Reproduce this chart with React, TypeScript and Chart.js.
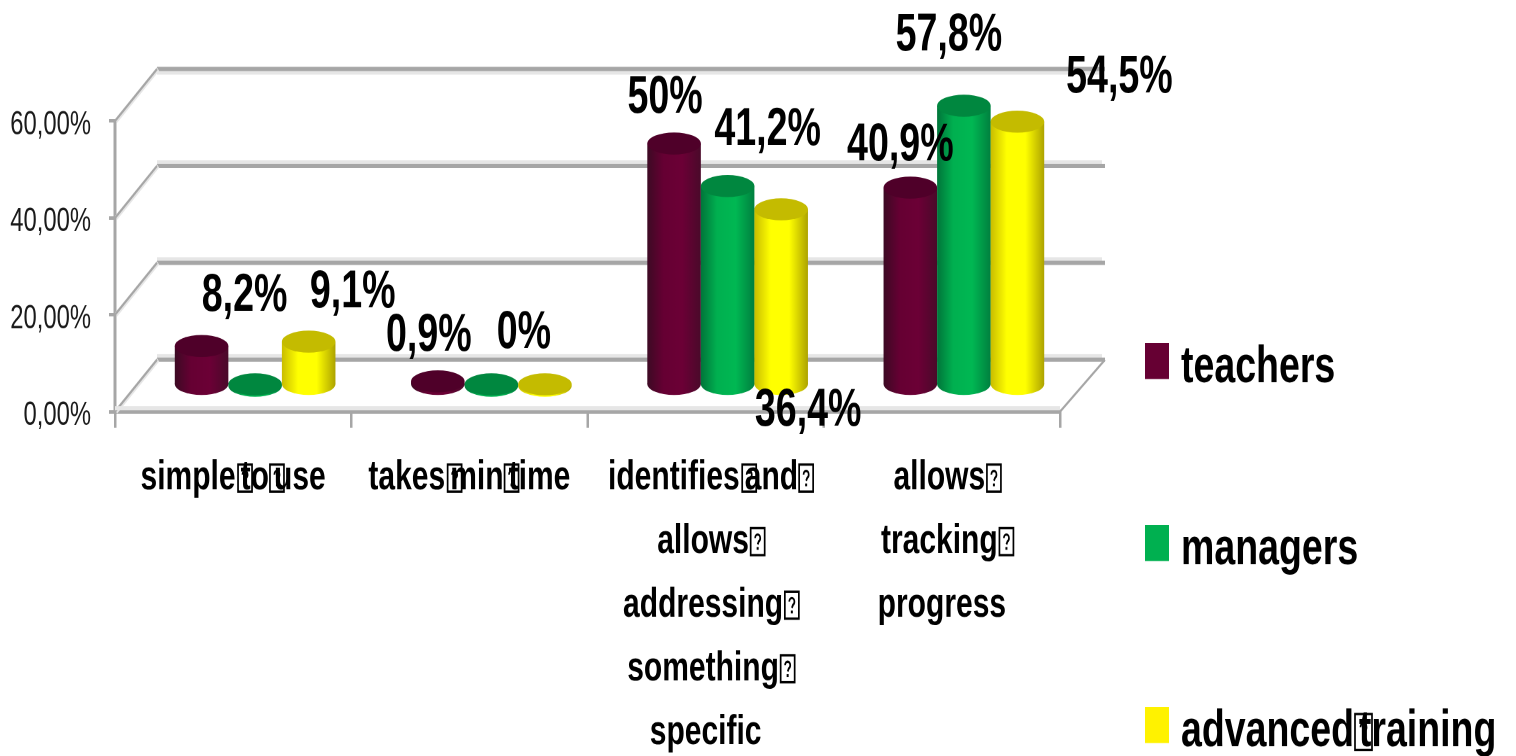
import React, { useEffect, useRef } from "react";
import { Chart, registerables } from "chart.js";

Chart.register(...registerables);

// Chart content
const categories = [
  ["simple to use"],
  ["takes min time"],
  ["identifies and ", "allows ", "addressing ", "something ", "specific"],
  ["allows ", "tracking ", "progress"],
];
const seriesNames = ["teachers", "managers", "advanced training"];
const teachers = [8.2, 0.9, 50, 40.9];
const managers = [0, 0, 41.2, 57.8];
const advancedTraining = [9.1, 0, 36.4, 54.5];
const yTicks = { min: 0, max: 60, step: 20 };

// Appearance
const FONT = '"Liberation Sans Narrow", "Liberation Sans", sans-serif';
const WIDTH = 1516;
const HEIGHT = 756;
const STRETCH = 1.4; // text and marks are tall and narrow: the canvas is stretched vertically
const sy = (v: number) => v / STRETCH;

const AXIS_LEFT = 115;
const AXIS_RIGHT = 1060;
const AXIS_TOP = 121;
const AXIS_BOTTOM = 411.7;
const DEPTH_X = 42;
const DEPTH_Y = sy(-52);
const BAR_SHIFT_X = 22;
const BAR_SHIFT_Y = sy(-26);
const CAP_RY = sy(11);
const GREY = "#a6a6a6";
const PALE = "#e6e6e6";

const TICK_FONT_SIZE = 30;
const LEGEND_FONT_SIZE = 37.5;
const VALUE_FONT_SIZE = 37.6;
const SPACE_EM = 0.228;
const TICK_GAP = 3.6; // advance left for a space in the category labels

const bodyStops = [
  ["#3d0a24", "#660033", "#6c0036", "#4a0a2a"],
  ["#00753a", "#00b050", "#00b853", "#00803f"],
  ["#c9bd00", "#ffff00", "#ffff00", "#ada300"],
];
const capColors = ["#4f0029", "#00873f", "#c4bb00"];
const legendColors = ["#660033", "#00b050", "#fff200"];

// Data label placement relative to the top of its bar; null leaves the bar unlabelled
const labelShifts: ([number, number] | null)[][] = [
  [[45, -50], [-7, -45], [-7, -45], [-8, -42]],
  [null, null, [42, -56], [-13, -70]],
  [[46, -49], [-19, -52], [29, 202], [104, -44]],
];

// Missing-glyph box left by the non-breaking spaces in the labels
function drawMissingGlyph(ctx: CanvasRenderingContext2D, x: number, y: number, w: number, h: number) {
  ctx.save();
  ctx.strokeStyle = "#000";
  ctx.fillStyle = "#000";
  ctx.lineWidth = 1.7;
  ctx.strokeRect(x + 1, y - h / 2, w - 2, h);
  const cx = x + w / 2;
  const r = w * 0.16;
  ctx.beginPath();
  ctx.arc(cx, y - h * 0.13, r, Math.PI, Math.PI * 2.35);
  ctx.lineTo(cx, y + h * 0.1);
  ctx.stroke();
  ctx.fillRect(cx - 1, y + h * 0.2, 2, 2);
  ctx.restore();
}

function drawWordsGaps(ctx: CanvasRenderingContext2D, line: string, cx: number, y: number, w: number, h: number) {
  const words = line.split(" ");
  ctx.save();
  (ctx as any).wordSpacing = "0px";
  const widths = words.map((word) => ctx.measureText(word).width);
  const total = widths.reduce((a, b) => a + b, 0) + TICK_GAP * (words.length - 1);
  let pen = cx - total / 2;
  words.forEach((_, i) => {
    pen += widths[i];
    if (i < words.length - 1) {
      drawMissingGlyph(ctx, pen, y, w, h);
      pen += TICK_GAP;
    }
  });
  ctx.restore();
}

const depthPlugin = {
  id: "depth",
  beforeDraw(chart: any) {
    // The label spaces take little room, so the words close up around their boxes
    chart.ctx.wordSpacing = `${TICK_GAP - SPACE_EM * TICK_FONT_SIZE}px`;
  },
  beforeDatasetsDraw(chart: any) {
    const { ctx, scales } = chart;
    const yScale = scales.y;
    const xScale = scales.x;
    const left = xScale.left;
    const right = xScale.right;
    const zero = yScale.getPixelForValue(0);
    ctx.save();
    ctx.lineCap = "butt";

    // Back wall lines and the side wall diagonals
    yScale.ticks.forEach((tick: any) => {
      const y = yScale.getPixelForValue(tick.value);
      const backY = y + DEPTH_Y;
      const isTop = tick.value === yTicks.max;
      ctx.fillStyle = PALE;
      ctx.fillRect(left + DEPTH_X, isTop ? backY + 1 : backY - 4, right - left, 3);
      ctx.strokeStyle = GREY;
      ctx.lineWidth = 3;
      ctx.beginPath();
      ctx.moveTo(left + DEPTH_X, backY);
      ctx.lineTo(right + DEPTH_X + 3, backY);
      ctx.stroke();
      ctx.strokeStyle = PALE;
      ctx.lineWidth = 3.5;
      ctx.beginPath();
      ctx.moveTo(left + 1, y);
      ctx.lineTo(left + DEPTH_X + 1, backY);
      ctx.stroke();
      ctx.strokeStyle = GREY;
      ctx.lineWidth = 1.8;
      ctx.beginPath();
      ctx.moveTo(left, y);
      ctx.lineTo(left + DEPTH_X, backY);
      ctx.stroke();
    });

    // Floor edges
    ctx.fillStyle = PALE;
    ctx.fillRect(left, zero - 4, right - left, 3);
    ctx.strokeStyle = GREY;
    ctx.lineWidth = 1.8;
    ctx.beginPath();
    ctx.moveTo(right, zero);
    ctx.lineTo(right + DEPTH_X + 3, zero + DEPTH_Y);
    ctx.stroke();
    ctx.restore();

    // Cylinders, left to right inside each group
    for (let i = 0; i < chart.data.datasets.length; i++) {
      const meta = chart.getDatasetMeta(i);
      meta.data.forEach((bar: any, j: number) => {
        const value = chart.data.datasets[i].data[j];
        const half = bar.width / 2;
        ctx.save();
        ctx.translate(BAR_SHIFT_X, BAR_SHIFT_Y);
        const stops = bodyStops[i];
        const shade = ctx.createLinearGradient(bar.x - half, 0, bar.x + half, 0);
        shade.addColorStop(0, stops[0]);
        shade.addColorStop(0.3, stops[1]);
        shade.addColorStop(0.65, stops[2]);
        shade.addColorStop(1, stops[3]);
        ctx.fillStyle = shade;
        ctx.beginPath();
        ctx.ellipse(bar.x, bar.base, half, CAP_RY, 0, 0, Math.PI * 2);
        ctx.fill();
        if (value > 0) {
          const resolved = bar.options;
          bar.options = { ...resolved, backgroundColor: shade, borderWidth: 0 };
          bar.draw(ctx);
          bar.options = resolved;
        }
        ctx.fillStyle = capColors[i];
        ctx.beginPath();
        ctx.ellipse(bar.x, value > 0 ? bar.y : bar.base - 1, half, CAP_RY, 0, 0, Math.PI * 2);
        ctx.fill();
        ctx.restore();
      });
    }
    return false;
  },
  afterDraw(chart: any) {
    const { ctx, scales } = chart;
    ctx.save();

    // Boxes in the category labels
    ctx.font = `bold ${TICK_FONT_SIZE}px ${FONT}`;
    scales.x.getLabelItems().forEach((item: any) => {
      const lines: string[] = Array.isArray(item.label) ? item.label : [item.label];
      const [x, y] = item.options.translation;
      lines.forEach((line, k) => {
        const lineY = y + item.textOffset + k * item.font.lineHeight;
        drawWordsGaps(ctx, line, x, lineY, 16, sy(27));
      });
    });

    // Data labels
    ctx.wordSpacing = "0px";
    ctx.font = `bold ${VALUE_FONT_SIZE}px ${FONT}`;
    ctx.fillStyle = "#000";
    ctx.textAlign = "center";
    ctx.textBaseline = "middle";
    chart.data.datasets.forEach((ds: any, i: number) => {
      const meta = chart.getDatasetMeta(i);
      meta.data.forEach((bar: any, j: number) => {
        const shift = labelShifts[i][j];
        if (!shift) return;
        const text = `${ds.data[j]}`.replace(".", ",") + "%";
        ctx.fillText(text, bar.x + BAR_SHIFT_X + shift[0] - 2, bar.y + BAR_SHIFT_Y + sy(shift[1]));
      });
    });

    // Legend
    const rows = [343, 525, 707];
    chart.data.datasets.forEach((ds: any, i: number) => {
      const top = sy(rows[i]);
      const midY = sy(rows[i] + 25);
      ctx.fillStyle = legendColors[i];
      ctx.fillRect(1145, top, 24, sy(36));
      ctx.font = `bold ${LEGEND_FONT_SIZE}px ${FONT}`;
      ctx.fillStyle = "#000";
      ctx.textAlign = "left";
      ctx.wordSpacing = `${-SPACE_EM * LEGEND_FONT_SIZE + 3}px`;
      ctx.fillText(ds.label, 1181, midY);
      ctx.wordSpacing = "0px";
      const words = ds.label.split(" ");
      if (words.length > 1) {
        const boxX = 1181 + ctx.measureText(words[0]).width;
        drawMissingGlyph(ctx, boxX, midY, 19, sy(36));
      }
    });
    ctx.restore();
  },
};

export default function App() {
  const canvasRef = useRef<HTMLCanvasElement | null>(null);

  useEffect(() => {
    const chart = new Chart(canvasRef.current as HTMLCanvasElement, {
      type: "bar",
      data: {
        labels: categories as any,
        datasets: [
          { label: seriesNames[0], data: teachers, backgroundColor: legendColors[0] },
          { label: seriesNames[1], data: managers, backgroundColor: legendColors[1] },
          { label: seriesNames[2], data: advancedTraining, backgroundColor: legendColors[2] },
        ],
      },
      plugins: [depthPlugin as any],
      options: {
        animation: false,
        responsive: false,
        devicePixelRatio: 2,
        layout: { padding: { left: 0, right: WIDTH - AXIS_RIGHT, top: sy(AXIS_TOP), bottom: 0 } },
        datasets: { bar: { categoryPercentage: 0.68, barPercentage: 1, borderWidth: 0 } },
        plugins: {
          legend: { display: false },
          tooltip: { enabled: false },
          title: { display: false },
        },
        scales: {
          x: {
            afterFit: (scale: any) => {
              scale.height = sy(HEIGHT - AXIS_BOTTOM);
            },
            border: { display: true, color: GREY, width: 3 },
            grid: { display: true, drawOnChartArea: false, drawTicks: true, tickLength: 11.4, color: GREY, lineWidth: 2.5 },
            ticks: {
              autoSkip: false,
              maxRotation: 0,
              minRotation: 0,
              padding: 13.3,
              color: "#000",
              font: { family: FONT, size: TICK_FONT_SIZE, weight: "bold", lineHeight: 45.4 / TICK_FONT_SIZE },
            },
          },
          y: {
            min: yTicks.min,
            max: yTicks.max,
            afterFit: (scale: any) => {
              scale.width = AXIS_LEFT;
            },
            border: { display: true, color: GREY, width: 3 },
            grid: { display: true, drawOnChartArea: false, drawTicks: true, tickLength: 6, color: GREY, lineWidth: 2.5 },
            ticks: {
              stepSize: yTicks.step,
              padding: 18,
              labelOffset: 3,
              color: "#1a1a1a",
              font: { family: FONT, size: 23.8 },
              callback: (value: any) => Number(value).toFixed(2).replace(".", ",") + "%",
            },
          },
        },
      } as any,
    });
    return () => chart.destroy();
  }, []);

  return (
    <div style={{ position: "absolute", left: 0, top: 0, width: WIDTH, height: HEIGHT, overflow: "hidden", background: "#fff" }}>
      <canvas
        ref={canvasRef}
        width={WIDTH}
        height={Math.round(HEIGHT / STRETCH)}
        style={{ display: "block", width: WIDTH, height: HEIGHT }}
      />
    </div>
  );
}
